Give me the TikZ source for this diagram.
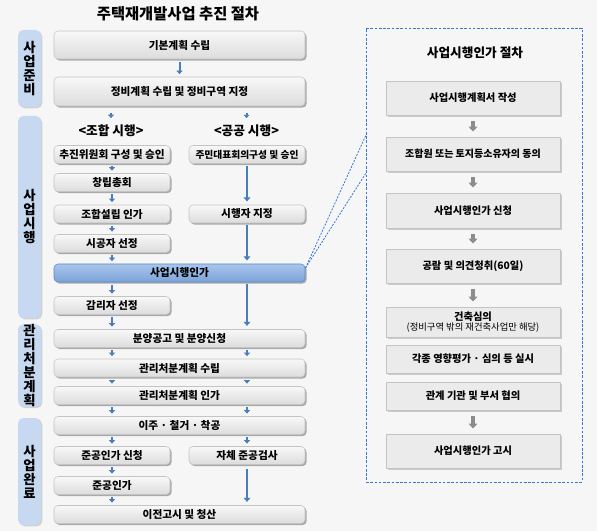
\documentclass[tikz,border=0pt]{standalone}
\usepackage{fontspec}
\setmainfont{Noto Sans CJK KR}
\usetikzlibrary{shadows,arrows.meta}
\definecolor{bgc}{HTML}{F6F6F6}
\definecolor{sidec}{HTML}{C6D9F1}
\definecolor{boxtop}{HTML}{F8F8F8}
\definecolor{boxbot}{HTML}{DCDCDC}
\definecolor{boxline}{HTML}{C4C4C4}
\definecolor{bluetop}{HTML}{A9C5EB}
\definecolor{bluebot}{HTML}{7BA3D9}
\definecolor{blueline}{HTML}{5B8BC9}
\definecolor{arrc}{HTML}{4A7EBB}
\definecolor{dashc}{HTML}{3A78D0}
\definecolor{pboxc}{HTML}{EBEBEB}
\definecolor{garr}{HTML}{8C8C8C}
\tikzset{
  sz/.style 2 args={minimum width=#1*0.75pt, minimum height=#2*0.75pt, inner sep=0pt},
  gbox/.style={draw=boxline, rounded corners=3pt, top color=boxtop, bottom color=boxbot,
    drop shadow={shadow xshift=1.2pt, shadow yshift=-1.2pt, opacity=0.45, fill=black!70},
    font=\bfseries\fontsize{8}{9}\selectfont},
  bluebox/.style={gbox, draw=blueline, top color=bluetop, bottom color=bluebot},
  side/.style={fill=sidec, rounded corners=4pt, align=center, inner sep=0pt,
    drop shadow={shadow xshift=1pt, shadow yshift=-1pt, opacity=0.25, fill=black!60},
    font=\bfseries\fontsize{10}{10.5}\selectfont},
  pbox/.style={draw=boxline, fill=pboxc, align=center,
    drop shadow={shadow xshift=1.5pt, shadow yshift=-1.5pt, opacity=0.3, fill=black!60},
    font=\bfseries\fontsize{7.7}{9}\selectfont},
  lbl/.style={font=\bfseries\fontsize{9.5}{10}\selectfont, inner sep=0pt},
  sarr/.style={draw=arrc, line width=1.5pt, -{Triangle[width=4.5pt,length=2.5pt]},
    shorten <=2pt, shorten >=2pt},
  larr/.style={draw=arrc, line width=1.7pt, -{Triangle[width=5pt,length=3pt]},
    shorten <=1.5pt, shorten >=2.5pt},
  garrow/.style={draw=garr, line width=3pt, -{Triangle[width=6.5pt,length=3.5pt]},
    shorten <=4pt, shorten >=4pt},
  conn/.style={draw=dashc, dashed, dash pattern=on 1.5pt off 1pt, line width=0.6pt}
}
\begin{document}
\begin{tikzpicture}[x=0.75pt,y=-0.75pt]
\fill[bgc] (0,0) rectangle (597,531);
\useasboundingbox (0,0) rectangle (597,531);

% title
\node[font=\bfseries\fontsize{11.5}{12}\selectfont] (title) at (178,14) {주택재개발사업 추진 절차};

% side labels
\node[side, sz={23}{77}] (s1) at (29.5,68.5) {사\\업\\준\\비};
\node[side, sz={23}{202}] (s2) at (29.5,217) {사\\업\\시\\행};
\node[side, sz={23}{77}] (s3) at (29.5,365.5) {관\\리\\처\\분\\계\\획};
\node[side, sz={23}{107}] (s4) at (29.5,471.5) {사\\업\\완\\료};

% main boxes
\node[gbox, sz={251}{28}] (b1) at (179.5,45) {기본계획 수립};
\node[gbox, sz={251}{29}] (b2) at (179.5,91.5) {정비계획 수립 및 정비구역 지정};
\node[lbl] (jh) at (111,131) {<조합 시행>};
\node[lbl] (gg) at (246.5,131) {<공공 시행>};
\node[gbox, sz={116}{18}] (l1) at (112,154.5) {추진위원회 구성 및 승인};
\node[gbox, sz={116}{18}, font=\bfseries\fontsize{7.3}{9}\selectfont] (r1) at (247,154.5) {주민대표회의구성 및 승인};
\node[gbox, sz={116}{18}] (l2) at (112,182.5) {창립총회};
\node[gbox, sz={116}{18}] (l3) at (112,214) {조합설립 인가};
\node[gbox, sz={116}{18}] (r2) at (247,214) {시행자 지정};
\node[gbox, sz={116}{18}] (l4) at (112,243.5) {시공자 선정};
\node[bluebox, sz={251}{18}] (b3) at (179.5,273) {사업시행인가};
\node[gbox, sz={116}{18}] (l5) at (112,305.5) {감리자 선정};
\node[gbox, sz={251}{18}] (b4) at (179.5,338.5) {분양공고 및 분양신청};
\node[gbox, sz={251}{18}] (b5) at (179.5,368) {관리처분계획 수립};
\node[gbox, sz={251}{18}] (b6) at (179.5,395.5) {관리처분계획 인가};
\node[gbox, sz={251}{18}] (b7) at (179.5,425.5) {이주 · 철거 · 착공};
\node[gbox, sz={116}{18}] (l6) at (112,455.5) {준공인가 신청};
\node[gbox, sz={116}{18}] (r3) at (247,455.5) {자체 준공검사};
\node[gbox, sz={116}{18}] (l7) at (112,485.5) {준공인가};
\node[gbox, sz={251}{18}] (b8) at (179.5,514.5) {이전고시 및 청산};

% arrows left/main
\draw[sarr] (b1) -- (b2);
\draw[sarr, shorten <=5pt, shorten >=5pt] (b2.south -| jh) -- (jh.north);
\draw[sarr, shorten <=5pt, shorten >=5pt] (b2.south -| gg) -- (gg.north);
\draw[sarr] (l1) -- (l2);
\draw[sarr] (l2) -- (l3);
\draw[sarr] (l3) -- (l4);
\draw[sarr] (l4.south) -- (b3.north -| l4.south);
\draw[sarr] (b3.south -| l5.north) -- (l5.north);
\draw[sarr] (l5.south) -- (b4.north -| l5.south);
\draw[larr] (r1) -- (r2);
\draw[larr] (r2.south) -- (b3.north -| r2.south);
\draw[larr] (b3.south -| r2.south) -- (b4.north -| r2.south);
\draw[sarr] (b4.south -| l1.south) -- (b5.north -| l1.south);
\draw[sarr] (b4.south -| r1.south) -- (b5.north -| r1.south);
\draw[sarr] (b5.south -| l1.south) -- (b6.north -| l1.south);
\draw[sarr] (b5.south -| r1.south) -- (b6.north -| r1.south);
\draw[sarr] (b6.south -| l1.south) -- (b7.north -| l1.south);
\draw[sarr] (b6.south -| r1.south) -- (b7.north -| r1.south);
\draw[sarr] (b7.south -| l6.north) -- (l6.north);
\draw[sarr] (b7.south -| r3.north) -- (r3.north);
\draw[sarr] (l6) -- (l7);
\draw[sarr] (l7.south) -- (b8.north -| l7.south);
\draw[larr, shorten <=3pt] (r3.south) -- (b8.north -| r3.south);

% right panel
\node[draw=dashc, dash pattern=on 2pt off 1.2pt, line width=0.7pt, sz={216}{454}] (panel) at (474,255) {};
\node[font=\bfseries\fontsize{9.5}{10}\selectfont] (ptitle) at (475,53) {사업시행인가 절차};
\node[pbox, sz={174}{34}] (p1) at (473,98) {사업시행계획서 작성};
\node[pbox, sz={174}{34}, font=\bfseries\fontsize{7.5}{9}\selectfont] (p2) at (473,154) {조합원 또는 토지등소유자의 동의};
\node[pbox, sz={174}{35}] (p3) at (473,210.5) {사업시행인가 신청};
\node[pbox, sz={174}{34}] (p4) at (473,266) {공람 및 의견청취(60일)};
\node[pbox, sz={174}{30}] (p5) at (473,322) {건축심의\\[-1pt]{\mdseries\fontsize{7}{8}\selectfont (정비구역 밖의 재건축사업만 해당)}};
\node[pbox, sz={174}{28}] (p6) at (473,359) {각종 영향평가 · 심의 등 실시};
\node[pbox, sz={174}{28}] (p7) at (473,396) {관계 기관 및 부서 협의};
\node[pbox, sz={174}{34}] (p8) at (473,451) {사업시행인가 고시};
\draw[garrow] (p1) -- (p2);
\draw[garrow] (p2) -- (p3);
\draw[garrow] (p3) -- (p4);
\draw[garrow] (p4) -- (p5);
\draw[garrow] (p7) -- (p8);

% connectors
\coordinate (c0) at (305.5,268);
\coordinate (c1) at (366,135);
\coordinate (c2) at (366,173);
\draw[conn] (c0) -- (c1);
\draw[conn] (c0) -- (c2);
\end{tikzpicture}
\end{document}
